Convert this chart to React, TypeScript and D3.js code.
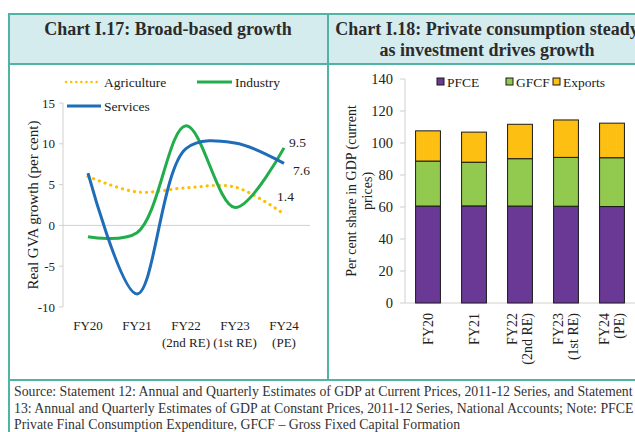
import React from 'react';
import * as d3 from 'd3';

// left chart: real GVA growth (per cent)
const years = ['FY20', 'FY21', 'FY22', 'FY23', 'FY24'];
const yearSub = ['', '', '(2nd RE)', '(1st RE)', '(PE)'];
const agriculture = [6.0, 4.1, 4.6, 4.7, 1.4];
const industry = [-1.4, -0.9, 12.2, 2.2, 9.5];
const services = [6.4, -8.4, 9.4, 10.1, 7.6];
const growthTicks = [-10, -5, 0, 5, 10, 15];

// right chart: per cent share in GDP (current prices)
const pfce = [60.6, 60.7, 60.6, 60.5, 60.3];
const gfcf = [28.1, 27.3, 29.6, 30.5, 30.5];
const exportsShare = [18.9, 18.8, 21.5, 23.4, 21.6];
const shareTicks = [0, 20, 40, 60, 80, 100, 120, 140];
const legendKeys = ['PFCE', 'GFCF', 'Exports'];

const teal = '#4fb3a6';
const band = '#d5ecef';
const serif = '"Liberation Serif", "Times New Roman", serif';

const App = () => {
  // ---- left chart scales
  const xL = d3.scalePoint<string>().domain(years).range([88, 284]);
  const yL = d3.scaleLinear().domain([-10, 15]).range([307, 103]);
  const line = d3
    .line<number>()
    .x((d, i) => xL(years[i]) as number)
    .y(d => yL(d))
    .curve(d3.curveCatmullRom.alpha(0.5));

  // ---- right chart scales
  const xR = d3.scaleBand<string>().domain(years).range([405, 635]).paddingInner(0.46).paddingOuter(0.23);
  const yR = d3.scaleLinear().domain([0, 140]).range([303, 79]);
  const stackData = years.map((y, i) => ({ year: y, PFCE: pfce[i], GFCF: gfcf[i], Exports: exportsShare[i] }));
  const stack = d3.stack<any>().keys(legendKeys)(stackData);
  const barColor: Record<string, string> = { PFCE: '#6a3995', GFCF: '#92c94f', Exports: '#fdbf12' };

  return (
    <svg width={635} height={432} style={{ position: 'absolute', left: 0, top: 0, background: '#fff' }} fontFamily={serif}>
      {/* title bands and frame */}
      <rect x={8} y={14} width={640} height={50} fill={band} />
      <line x1={8} x2={640} y1={14} y2={14} stroke={teal} strokeWidth={2} />
      <line x1={8} x2={640} y1={64} y2={64} stroke={teal} strokeWidth={2} />
      <line x1={8} x2={640} y1={380} y2={380} stroke={teal} strokeWidth={2} />
      <line x1={9} x2={9} y1={14} y2={432} stroke={teal} strokeWidth={2} />
      <line x1={328} x2={328} y1={14} y2={380} stroke={teal} strokeWidth={2} />

      <text x={168} y={35} textAnchor="middle" fontWeight="bold" fontSize={18} fill="#2b2b2b">
        Chart I.17: Broad-based growth
      </text>
      <text x={487} y={35} textAnchor="middle" fontWeight="bold" fontSize={18} fill="#2b2b2b">
        Chart I.18: Private consumption steady
      </text>
      <text x={487} y={56} textAnchor="middle" fontWeight="bold" fontSize={18} fill="#2b2b2b">
        as investment drives growth
      </text>

      {/* ---- left chart ---- */}
      <line x1={63} x2={63} y1={yL(15)} y2={yL(-10)} stroke="#d0d0d0" />
      <line x1={63} x2={310} y1={yL(0)} y2={yL(0)} stroke="#d0d0d0" />
      {growthTicks.map(t => (
        <g key={t}>
          <line x1={59} x2={63} y1={yL(t)} y2={yL(t)} stroke="#d0d0d0" />
          <text x={55} y={yL(t)} dy="0.35em" textAnchor="end" fontSize={13} fill="#222">
            {t}
          </text>
        </g>
      ))}
      {years.map((y, i) => (
        <g key={y}>
          <text x={xL(y)} y={330} textAnchor="middle" fontSize={13} fill="#222">{y}</text>
          {yearSub[i] && (
            <text x={xL(y)} y={347} textAnchor="middle" fontSize={13} fill="#222">{yearSub[i]}</text>
          )}
        </g>
      ))}
      <text transform="translate(38,205) rotate(-90)" textAnchor="middle" fontSize={15} fill="#222">
        Real GVA  growth (per cent)
      </text>

      <path d={line(agriculture) as string} fill="none" stroke="#ffc000" strokeWidth={3.2} strokeDasharray="0.1 6" strokeLinecap="round" />
      <path d={line(industry) as string} fill="none" stroke="#22ad4b" strokeWidth={3} />
      <path d={line(services) as string} fill="none" stroke="#1f6db8" strokeWidth={3} />

      <text x={289} y={147} fontSize={13.5} fill="#222">{industry[4]}</text>
      <text x={293} y={175} fontSize={13.5} fill="#222">{services[4]}</text>
      <text x={277} y={201} fontSize={13.5} fill="#222">{agriculture[4]}</text>

      {/* left legend */}
      <line x1={66} x2={101} y1={82} y2={82} stroke="#ffc000" strokeWidth={2.5} strokeDasharray="0.1 5" strokeLinecap="round" />
      <text x={104} y={87} fontSize={13.5} fill="#222">Agriculture</text>
      <line x1={197} x2={232} y1={82} y2={82} stroke="#22ad4b" strokeWidth={3} />
      <text x={235} y={87} fontSize={13.5} fill="#222">Industry</text>
      <line x1={67} x2={101} y1={106} y2={106} stroke="#1f6db8" strokeWidth={3} />
      <text x={104} y={111} fontSize={13.5} fill="#222">Services</text>

      {/* ---- right chart ---- */}
      <line x1={405} x2={405} y1={yR(140)} y2={yR(0)} stroke="#d0d0d0" />
      <line x1={405} x2={640} y1={yR(0)} y2={yR(0)} stroke="#d0d0d0" />
      {shareTicks.map(t => (
        <g key={t}>
          <line x1={400} x2={405} y1={yR(t)} y2={yR(t)} stroke="#d0d0d0" />
          <text x={393} y={yR(t)} dy="0.35em" textAnchor="end" fontSize={14.5} fill="#222">
            {t}
          </text>
        </g>
      ))}
      {stack.map(s => (
        <g key={s.key}>
          {s.map((d, i) => (
            <rect
              key={i}
              x={xR(years[i])}
              y={yR(d[1])}
              width={xR.bandwidth()}
              height={yR(d[0]) - yR(d[1])}
              fill={barColor[s.key]}
              stroke="#1a1a1a"
              strokeWidth={1}
            />
          ))}
        </g>
      ))}
      {years.map((y, i) => {
        const cx = (xR(y) as number) + xR.bandwidth() / 2;
        return yearSub[i] ? (
          <g key={y}>
            <text transform={`translate(${cx - 3},313) rotate(-90)`} textAnchor="end" fontSize={14} fill="#222">{y}</text>
            <text transform={`translate(${cx + 12},313) rotate(-90)`} textAnchor="end" fontSize={14} fill="#222">{yearSub[i]}</text>
          </g>
        ) : (
          <text key={y} transform={`translate(${cx + 5},313) rotate(-90)`} textAnchor="end" fontSize={14} fill="#222">{y}</text>
        );
      })}
      <text transform="translate(356,191) rotate(-90)" textAnchor="middle" fontSize={14} fill="#222">
        Per cent share in GDP (current
      </text>
      <text transform="translate(372,191) rotate(-90)" textAnchor="middle" fontSize={14} fill="#222">
        prices)
      </text>

      {/* right legend */}
      {legendKeys.map((k, i) => {
        const lx = [437, 506, 553][i];
        return (
          <g key={k}>
            <rect x={lx} y={78} width={7} height={7} fill={barColor[k]} stroke="#1a1a1a" strokeWidth={1} />
            <text x={lx + 10} y={87} fontSize={13.5} fill="#222">{k}</text>
          </g>
        );
      })}

      {/* footer */}
      <text x={14} y={396} fontSize={13.8} fill="#333">
        Source: Statement 12: Annual and Quarterly Estimates of GDP at Current Prices, 2011-12 Series, and Statement
      </text>
      <text x={14} y={413} fontSize={13.8} fill="#333">
        13: Annual and Quarterly Estimates of GDP at Constant Prices, 2011-12 Series, National Accounts; Note: PFCE –
      </text>
      <text x={14} y={429} fontSize={13.8} fill="#333">
        Private Final Consumption Expenditure, GFCF – Gross Fixed Capital Formation
      </text>
    </svg>
  );
};

export default App;
